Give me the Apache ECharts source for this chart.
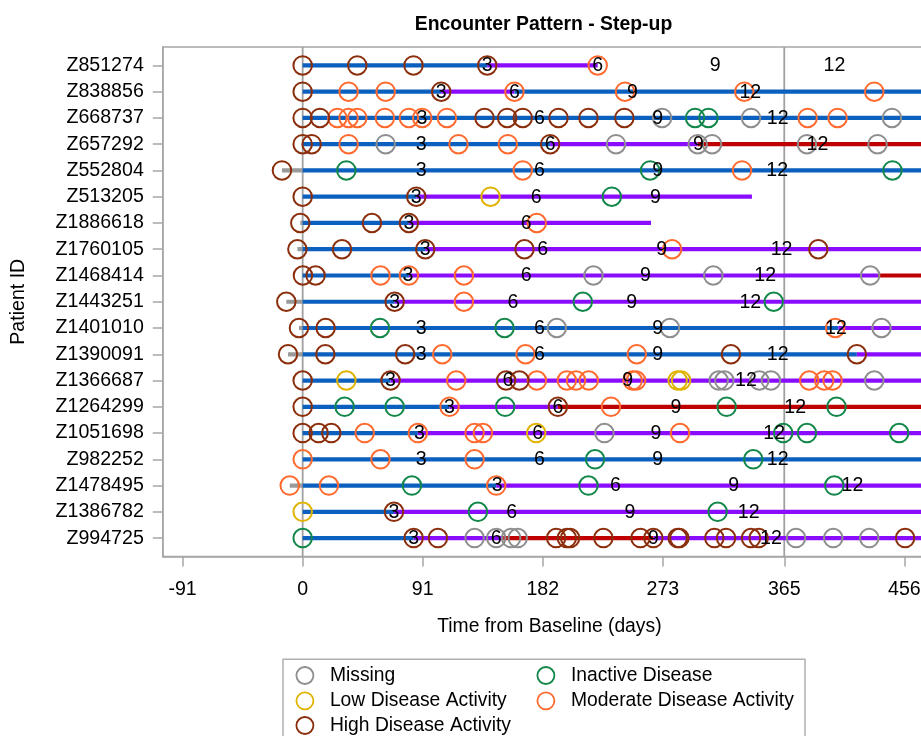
<!DOCTYPE html>
<html>
<head>
<meta charset="utf-8">
<script src="https://cdn.jsdelivr.net/npm/echarts@6/dist/echarts.min.js"></script>
<style>html,body{margin:0;padding:0;background:#fff;}#chart{width:921px;height:736px;}</style>
</head>
<body>
<div id="chart"></div>
<script>
// ---------- data ----------
const patientIds = ['Z851274','Z838856','Z668737','Z657292','Z552804','Z513205','Z1886618','Z1760105','Z1468414','Z1443251','Z1401010','Z1390091','Z1366687','Z1264299','Z1051698','Z982252','Z1478495','Z1386782','Z994725'];
const xTickValues = [-91, 0, 91, 182, 273, 365, 456];
const refLines = [0, 365];

// circles: [day, patientRow]
const missingPts = [[272.4,2],[339.8,2],[446.6,2],[62.9,3],[237.5,3],[299.4,3],[310.3,3],[382.2,3],[435.7,3],[220.4,8],[311.2,8],[430.1,8],[192.6,10],[278.4,10],[438.7,10],[315.3,12],[319.6,12],[346.1,12],[354.9,12],[433.2,12],[228.7,14],[130.3,18],[146.7,18],[158,18],[163,18],[373.9,18],[402.1,18],[429.4,18]];
const inactivePts = [[297.4,2],[307.5,2],[33.1,4],[263.3,4],[447,4],[234.3,5],[212.3,9],[357,9],[58.6,10],[153,10],[31.8,13],[69.7,13],[153.5,13],[321.3,13],[404.6,13],[364.2,14],[382.2,14],[452.1,14],[221.6,15],[341.5,15],[82.8,16],[216.6,16],[402.9,16],[132.8,17],[314.5,17],[0,18]];
const lowPts = [[142.4,5],[33.1,12],[284.2,12],[286.8,12],[177,14],[0,17]];
const moderatePts = [[223.6,0],[34.8,1],[62.9,1],[160.5,1],[244.3,1],[334.7,1],[433.2,1],[26.3,2],[34.8,2],[41.4,2],[62.3,2],[80.5,2],[90.6,2],[109.3,2],[382.7,2],[405.4,2],[34.8,3],[118.1,3],[155.5,3],[166.8,4],[333,4],[177.4,6],[280,7],[59,8],[80.5,8],[122.2,8],[122.2,9],[403.6,10],[105.8,11],[168.9,11],[253.2,11],[116.4,12],[177.5,12],[200.2,12],[207.2,12],[216.8,12],[250.1,12],[252.7,12],[383.9,12],[395.3,12],[401.6,12],[111.3,13],[233.7,13],[47,14],[87.3,14],[130.3,14],[136.6,14],[286,14],[0,15],[59,15],[130.3,15],[-9.8,16],[19.9,16],[146.7,16]];
const highPts = [[0,0],[41.4,0],[84,0],[139.9,0],[0,1],[105,1],[0,2],[13.1,2],[137.8,2],[155,2],[166.8,2],[193.9,2],[216.6,2],[243.8,2],[0,3],[6.8,3],[187.6,3],[-15.7,4],[0,5],[86.1,5],[-1.8,6],[52.5,6],[80.5,6],[-4,7],[29.8,7],[92.9,7],[168.1,7],[390.8,7],[0.2,8],[9.8,8],[-12.4,9],[69.7,9],[-2.8,10],[17.4,10],[-11.1,11],[17.2,11],[77.7,11],[324.6,11],[420,11],[0,12],[66.6,12],[154.2,12],[164.3,12],[0,13],[193.4,13],[0,14],[12.1,14],[21.7,14],[69.2,17],[84.1,18],[102.5,18],[192.1,18],[200.2,18],[202.7,18],[227.9,18],[256,18],[265.8,18],[284.2,18],[285.5,18],[312,18],[320.9,18],[339.8,18],[345.6,18],[456.6,18]];

// treatment segments: [patientRow, startDay, endDay, phase]  phase: 0 blue, 1 purple, 2 red, 3 pre-baseline
const segments = [
  [0,0,139.9,0],[0,139.9,223.6,1],
  [1,0,105,0],[1,105,160.5,1],[1,160.5,480,0],
  [2,0,480,0],
  [3,0,187.6,0],[3,187.6,299.4,1],[3,299.4,480,2],
  [4,-15.7,0,3],[4,0,480,0],
  [5,0,86.1,0],[5,86.1,340.5,1],
  [6,-1.8,0,3],[6,0,80.5,0],[6,80.5,264,1],
  [7,-4,0,3],[7,0,92.9,0],[7,92.9,480,1],
  [8,0,80.5,0],[8,80.5,436,1],[8,436,480,2],
  [9,-12.4,0,3],[9,0,69.7,0],[9,69.7,480,1],
  [10,-2.8,0,3],[10,0,406,0],[10,406,480,1],
  [11,-11.1,0,3],[11,0,420,0],[11,420,480,1],
  [12,0,66.6,0],[12,66.6,480,1],
  [13,0,111.3,0],[13,111.3,193.4,1],[13,193.4,480,2],
  [14,0,87.3,0],[14,87.3,480,1],
  [15,0,480,0],
  [16,-9.8,0,3],[16,0,146.7,0],[16,146.7,480,1],
  [17,0,69.2,0],[17,69.2,480,1],
  [18,0,84.1,0],[18,84.1,152,1],[18,152,265.8,2],[18,265.8,480,1]
];

// month markers: [patientRow, day, month]
const monthMarks = [
  [0,139.9,3],[0,223.6,6],[0,312.7,9],[0,403,12],
  [1,105,3],[1,160.5,6],[1,250,9],[1,339.3,12],
  [2,90.4,3],[2,179.5,6],[2,269,9],[2,360,12],
  [3,89.9,3],[3,187.6,6],[3,300,9],[3,390.2,12],
  [4,89.9,3],[4,179.5,6],[4,269,9],[4,359.7,12],
  [5,86.1,3],[5,177,6],[5,267.3,9],
  [6,80.5,3],[6,169.4,6],
  [7,92.9,3],[7,182,6],[7,272.1,9],[7,363,12],
  [8,79.8,3],[8,169.4,6],[8,259.7,9],[8,350.6,12],
  [9,69.7,3],[9,159.3,6],[9,249.4,9],[9,339.3,12],
  [10,89.9,3],[10,179.5,6],[10,269,9],[10,404.2,12],
  [11,89.9,3],[11,179.5,6],[11,269,9],[11,360,12],
  [12,66.6,3],[12,155.5,6],[12,246.4,9],[12,336,12],
  [13,111.3,3],[13,193.4,6],[13,283,9],[13,373.3,12],
  [14,88.6,3],[14,178.2,6],[14,267.8,9],[14,357.4,12],
  [15,89.9,3],[15,179.5,6],[15,269,9],[15,360,12],
  [16,147.4,3],[16,237,6],[16,326.6,9],[16,416.7,12],
  [17,69.2,3],[17,158.5,6],[17,248.1,9],[17,338,12],
  [18,84.1,3],[18,146.7,6],[18,265.8,9],[18,354.9,12]
];

// ---------- styles ----------
const FONT = '"Liberation Sans", Arial, sans-serif';
const FS = 19.6;
const LFS = 19.3;
const phaseColors = ['#0b5fbf', '#8a0cff', '#bf0000', '#9a9a9a'];
const statusSeries = [
  {name:'Missing', color:'#8e8e8e', data: missingPts},
  {name:'Inactive Disease', color:'#13874a', data: inactivePts},
  {name:'Low Disease Activity', color:'#e0b300', data: lowPts},
  {name:'Moderate Disease Activity', color:'#ff6a2e', data: moderatePts},
  {name:'High Disease Activity', color:'#8b2e0c', data: highPts}
];
const legendPos = [[295.5,666],[536.5,666],[295.5,691.3],[536.5,691.3],[295.5,716]];
const frameColor = '#a6a6a6';

const chart = echarts.init(document.getElementById('chart'), null, {renderer:'canvas'});

const series = [];
series.push({
  type:'custom', name:'refs', silent:true, z:1, clip:true,
  data: refLines.map(v => [v]),
  encode:{x:0},
  renderItem:(params, api) => {
    const a = api.coord([api.value(0), -0.7]);
    const b = api.coord([api.value(0), 18.7]);
    return {type:'line', shape:{x1:a[0], y1:a[1], x2:b[0], y2:b[1]}, style:{stroke:'#a0a0a0', lineWidth:1.8}};
  }
});
series.push({
  type:'custom', name:'segments', silent:true, z:2, clip:true,
  data: segments,
  encode:{x:[1,2], y:0},
  renderItem:(params, api) => {
    const row = api.value(0);
    const a = api.coord([api.value(1), row]);
    const b = api.coord([api.value(2), row]);
    return {type:'line', shape:{x1:a[0], y1:a[1], x2:b[0], y2:b[1]}, style:{stroke: phaseColors[api.value(3)], lineWidth:4.2}};
  }
});
statusSeries.forEach(s => {
  series.push({
    type:'scatter', name:s.name, z:3, silent:true,
    symbol:'circle', symbolSize:18.5,
    itemStyle:{color:'rgba(0,0,0,0)', borderColor:s.color, borderWidth:2, opacity:1},
    emphasis:{disabled:true},
    data: s.data
  });
});
series.push({
  type:'custom', name:'months', silent:true, z:4, clip:true,
  data: monthMarks,
  encode:{x:1, y:0},
  renderItem:(params, api) => {
    const p = api.coord([api.value(1), api.value(0)]);
    return {type:'text', x:p[0], y:p[1]+0.5, style:{text:String(api.value(2)), fill:'#000', fontSize:FS, fontFamily:FONT, align:'center', verticalAlign:'middle'}};
  }
});

const option = {
  animation:false,
  backgroundColor:'#fff',
  title:{text:'Encounter Pattern - Step-up', left:543.5, top:15, textAlign:'center', padding:0,
    textStyle:{fontFamily:FONT, fontSize:19.4, fontWeight:'bold', color:'#000'}},
  legend: statusSeries.map((s,i) => ({
    data:[{name:s.name, icon:'circle', itemStyle:{color:'rgba(0,0,0,0)', borderColor:s.color, borderWidth:1.8}}],
    left:legendPos[i][0], top:legendPos[i][1], padding:0,
    itemWidth:40, itemHeight:17, selectedMode:false,
    textStyle:{fontFamily:FONT, fontSize:LFS, color:'#000'}
  })),
  grid:{left:162.8, top:47, right:-15, bottom:179.5, show:true, borderColor:frameColor, borderWidth:1.5, outerBoundsMode:'none'},
  xAxis:{
    type:'value', min:-106, max:480,
    name:'Time from Baseline (days)', nameLocation:'middle', nameGap:61,
    nameTextStyle:{fontFamily:FONT, fontSize:LFS, color:'#000'},
    axisLine:{show:true, onZero:false, lineStyle:{color:frameColor, width:1.5}},
    axisTick:{show:true, length:10, customValues:xTickValues, lineStyle:{color:frameColor, width:1.5}},
    axisLabel:{customValues:xTickValues, margin:23, fontFamily:FONT, fontSize:FS, color:'#000'},
    splitLine:{show:false}
  },
  yAxis:{
    type:'value', inverse:true, min:-0.7, max:18.7,
    name:'Patient ID', nameLocation:'middle', nameGap:134,
    nameTextStyle:{fontFamily:FONT, fontSize:FS, color:'#000'},
    axisLine:{show:true, onZero:false, lineStyle:{color:frameColor, width:1.5}},
    axisTick:{show:true, length:10, customValues:patientIds.map((_,i)=>i), lineStyle:{color:frameColor, width:1.5}},
    axisLabel:{customValues:patientIds.map((_,i)=>i), margin:19, fontFamily:FONT, fontSize:FS, color:'#000',
      formatter:v => patientIds[Math.round(v)] || ''},
    splitLine:{show:false}
  },
  graphic:[{type:'rect', shape:{x:283, y:659.3, width:522, height:95}, style:{fill:'none', stroke:'#b0b0b0', lineWidth:1.5}, silent:true}],
  series: series
};
chart.setOption(option);
</script>
</body>
</html>
